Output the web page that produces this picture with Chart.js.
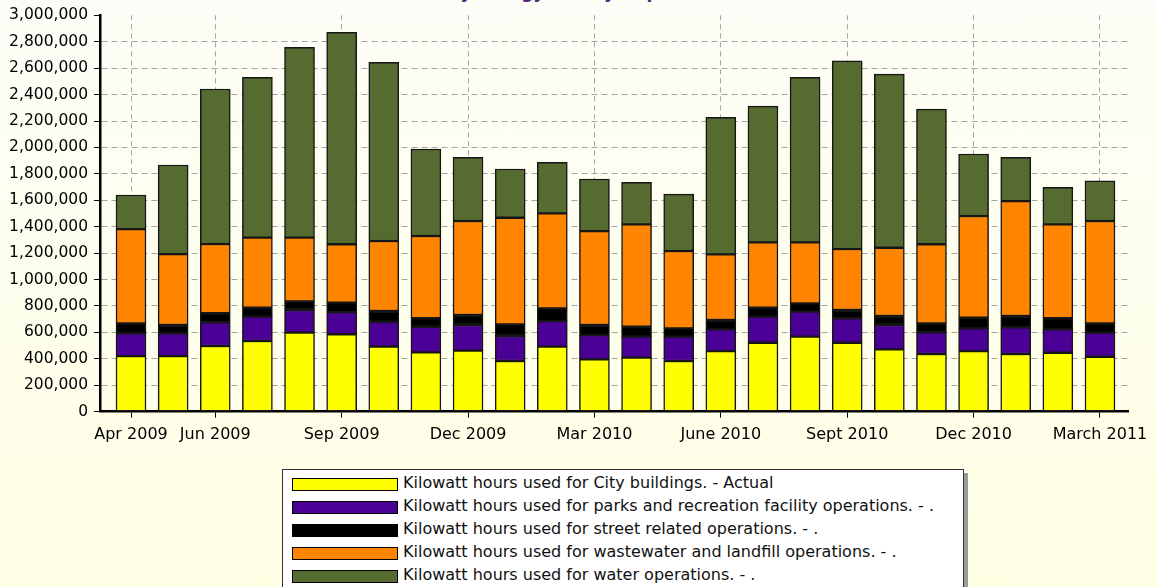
<!DOCTYPE html>
<html>
<head>
<meta charset="utf-8">
<script src="https://cdn.jsdelivr.net/npm/chart.js@4.4.0/dist/chart.umd.min.js"></script>
<style>
html,body{margin:0;padding:0;}
body{width:1157px;height:587px;overflow:hidden;position:relative;background:linear-gradient(#fdfdf7,#ffffe4);font-family:"DejaVu Sans",sans-serif;}
#wrap{position:absolute;left:0;top:0;width:1157px;height:460px;}
#title{position:absolute;left:0;width:1130px;text-align:center;top:-18px;font:bold 17px "DejaVu Sans",sans-serif;color:#4a2a7a;white-space:nowrap;}
#legend{position:absolute;left:282px;top:469px;width:680px;height:130px;background:#fff;border:1px solid #333;box-shadow:4px 4px 0 #9a9a9a;}
.row{position:absolute;left:9px;height:18px;white-space:nowrap;font-size:16px;color:#111;}
.sw{position:absolute;left:0;top:0;width:104px;height:11px;border:1px solid #000;}
.tx{position:absolute;left:111px;top:-4px;line-height:18px;}
</style>
</head>
<body>
<div id="title">Monthly Energy Use by Department</div>
<div id="wrap"><canvas id="c" width="1157" height="460"></canvas></div>
<div id="legend"></div>
<script>
// ---- data (kWh) ----
const months = ["Apr 2009","May 2009","Jun 2009","Jul 2009","Aug 2009","Sep 2009","Oct 2009","Nov 2009","Dec 2009","Jan 2010","Feb 2010","Mar 2010","Apr 2010","May 2010","June 2010","July 2010","Aug 2010","Sept 2010","Oct 2010","Nov 2010","Dec 2010","Jan 2011","Feb 2011","March 2011"];
const tickIndex = [0,2,5,8,11,14,17,20,23];
const tickLabels = ["Apr 2009","Jun 2009","Sep 2009","Dec 2009","Mar 2010","June 2010","Sept 2010","Dec 2010","March 2011"];
const cityBuildings = [421000,421000,497000,535000,598000,586000,492000,449000,462000,384000,492000,396000,409000,384000,459000,522000,568000,522000,472000,437000,459000,437000,446000,416000];
const parksRec = [172000,172000,180000,184000,172000,168000,189000,194000,194000,189000,194000,184000,159000,184000,164000,197000,189000,185000,184000,164000,172000,202000,177000,182000];
const streetOps = [76000,63000,68000,68000,65000,71000,81000,64000,76000,88000,96000,76000,75000,63000,71000,68000,63000,63000,68000,68000,80000,85000,84000,71000];
const wastewater = [713000,537000,524000,530000,482000,442000,530000,623000,711000,807000,719000,711000,775000,585000,497000,495000,462000,461000,517000,598000,770000,870000,711000,774000];
const waterOps = [258000,674000,1173000,1213000,1440000,1604000,1352000,658000,482000,369000,386000,394000,318000,431000,1037000,1031000,1248000,1425000,1314000,1023000,469000,331000,280000,305000];
const seriesNames = [
  "Kilowatt hours used for City buildings. - Actual",
  "Kilowatt hours used for parks and recreation facility operations. - .",
  "Kilowatt hours used for street related operations. - .",
  "Kilowatt hours used for wastewater and landfill operations. - .",
  "Kilowatt hours used for water operations. - ."
];
const seriesColors = ["#ffff00","#4b0096","#000000","#ff8400","#556b2f"];
const seriesValues = [cityBuildings, parksRec, streetOps, wastewater, waterOps];

const datasets = seriesValues.map((vals, i) => ({
  label: seriesNames[i],
  data: vals.map((v, j) => ({x: j, y: v})),
  backgroundColor: seriesColors[i],
  borderColor: "#161616",
  borderWidth: 1.5,
  borderSkipped: false,
  barThickness: 30
}));

const gridGrey = "#a4a4a4";
new Chart(document.getElementById("c"), {
  type: "bar",
  data: { datasets },
  options: {
    responsive: false,
    animation: false,
    devicePixelRatio: 1,
    plugins: { legend: { display: false }, tooltip: { enabled: false }, title: { display: false } },
    layout: { padding: { top: 15.3, right: 29, left: 0, bottom: 0 } },
    scales: {
      x: {
        type: "linear",
        min: -0.736,
        max: 23.665,
        stacked: true,
        offset: false,
        afterBuildTicks: (sc) => { sc.ticks = tickIndex.map(v => ({ value: v })); },
        afterFit: (sc) => { sc.height = 48.3; },
        ticks: {
          autoSkip: false, maxRotation: 0, minRotation: 0, padding: 8, color: "#000",
          font: { family: "DejaVu Sans", size: 16 },
          callback: (v, idx) => tickLabels[idx]
        },
        grid: { offset: false, color: gridGrey, lineWidth: 1, tickLength: 6, tickColor: "#000", tickWidth: 1 },
        border: { display: true, color: "#000", width: 2.5, dash: [5, 4] }
      },
      y: {
        stacked: true,
        min: 0,
        max: 3000000,
        afterFit: (sc) => { sc.width = 100; },
        ticks: {
          stepSize: 200000, padding: 6, color: "#000",
          font: { family: "DejaVu Sans", size: 15.5 },
          callback: (v) => Number(v).toLocaleString("en-US")
        },
        grid: {
          color: (c) => (c.tick && (c.tick.value === 0 || c.tick.value === 3000000)) ? "rgba(0,0,0,0)" : gridGrey,
          lineWidth: 1, tickLength: 6, tickColor: "#000", tickWidth: 1
        },
        border: { display: true, color: "#000", width: 2.5, dash: [6, 4] }
      }
    }
  }
});

// legend built from the same series arrays
const leg = document.getElementById("legend");
seriesNames.forEach((name, i) => {
  const row = document.createElement("div");
  row.className = "row";
  row.style.top = (8 + i * 23) + "px";
  const sw = document.createElement("div");
  sw.className = "sw";
  sw.style.background = seriesColors[i];
  const tx = document.createElement("div");
  tx.className = "tx";
  tx.textContent = name;
  row.appendChild(sw); row.appendChild(tx);
  leg.appendChild(row);
});
</script>
</body>
</html>
